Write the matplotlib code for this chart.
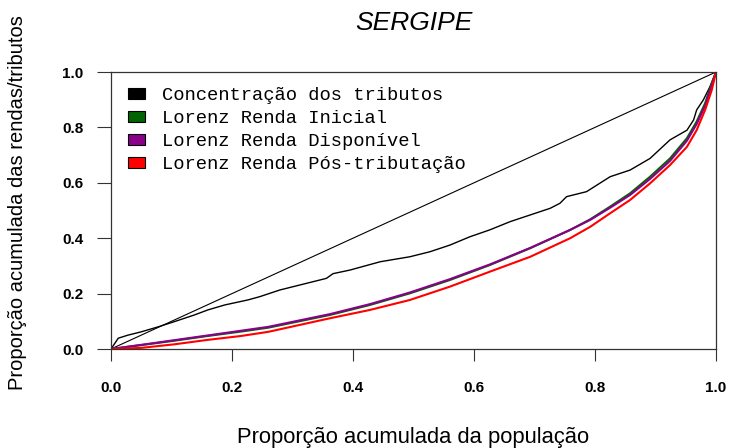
import matplotlib
matplotlib.use("Agg")
import matplotlib.pyplot as plt
from matplotlib.patches import Patch

plt.rcParams['font.family'] = ['Liberation Sans', 'DejaVu Sans']

# curva de concentracao dos tributos
conc_x = [0.0, 0.012, 0.028, 0.05, 0.078, 0.105, 0.138, 0.16, 0.188, 0.226, 0.246,
          0.279, 0.312, 0.356, 0.367, 0.395, 0.445, 0.494, 0.527, 0.56, 0.593,
          0.626, 0.66, 0.693, 0.726, 0.742, 0.753, 0.786, 0.825, 0.858, 0.891,
          0.924, 0.952, 0.963, 0.968, 0.979, 0.99, 1.0]
conc_y = [0.0, 0.039, 0.05, 0.062, 0.08, 0.099, 0.123, 0.141, 0.159, 0.177, 0.189,
          0.213, 0.231, 0.255, 0.272, 0.285, 0.315, 0.333, 0.351, 0.375, 0.405,
          0.43, 0.46, 0.484, 0.508, 0.526, 0.55, 0.568, 0.622, 0.646, 0.688,
          0.755, 0.79, 0.827, 0.863, 0.899, 0.947, 1.0]

# curvas de Lorenz
lor_x = [0.0, 0.05, 0.105, 0.16, 0.215, 0.26, 0.362, 0.428, 0.494, 0.56, 0.626,
         0.693, 0.759, 0.792, 0.825, 0.858, 0.891, 0.924, 0.952, 0.968, 0.982,
         0.993, 1.0]
inicial_y = [0.0, 0.014, 0.03, 0.047, 0.063, 0.077, 0.123, 0.159, 0.201, 0.249,
             0.303, 0.364, 0.43, 0.468, 0.514, 0.562, 0.622, 0.688, 0.761, 0.821,
             0.887, 0.959, 1.0]
disponivel_y = [0.0, 0.015, 0.032, 0.049, 0.066, 0.08, 0.126, 0.162, 0.204, 0.252,
                0.305, 0.365, 0.43, 0.466, 0.51, 0.556, 0.614, 0.679, 0.752, 0.812,
                0.878, 0.952, 1.0]
pos_y = [0.0, 0.004, 0.017, 0.033, 0.047, 0.062, 0.111, 0.141, 0.177, 0.225,
         0.279, 0.333, 0.40, 0.441, 0.49, 0.538, 0.598, 0.664, 0.73, 0.79,
         0.863, 0.935, 1.0]

labels = ["Concentração dos tributos", "Lorenz Renda Inicial",
          "Lorenz Renda Disponível", "Lorenz Renda Pós-tributação"]
cores = ["#000000", "#006400", "#8B008B", "#FF0000"]

fig = plt.figure(figsize=(7.29, 4.48), dpi=100)
ax = fig.add_axes([111/729, 99/448, 605/729, 277/448])

ax.plot([0, 1], [0, 1], color="black", lw=0.8)
ax.plot(conc_x, conc_y, color=cores[0], lw=1.0)
ax.plot(lor_x, inicial_y, color=cores[1], lw=1.5)
ax.plot(lor_x, disponivel_y, color=cores[2], lw=1.5)
ax.plot(lor_x, pos_y, color=cores[3], lw=1.5)

ax.set_xlim(0, 1)
ax.set_ylim(0, 1)
ticks = [0.0, 0.2, 0.4, 0.6, 0.8, 1.0]
ax.set_xticks(ticks)
ax.set_yticks(ticks)
ax.set_xticklabels(["%.1f" % t for t in ticks], fontweight="bold", fontsize=11)
ax.set_yticklabels(["%.1f" % t for t in ticks], fontweight="bold", fontsize=11)
ax.tick_params(axis="x", length=8.6, width=0.8, pad=14.5, color="#333333")
ax.tick_params(axis="y", length=10, width=0.8, pad=10, color="#333333")
for s in ax.spines.values():
    s.set_color("#333333")
    s.set_linewidth(0.9)

ax.set_title("SERGIPE", fontstyle="italic", fontsize=19, pad=30)
fig.text(413/729, 1 - 437/448, "Proporção acumulada da população",
         ha="center", va="center", fontsize=15.8)
fig.text(18/729, 1 - 203/448, "Proporção acumulada das rendas/tributos",
         ha="center", va="center", rotation=90, fontsize=14.5)

handles = [Patch(facecolor=c, edgecolor="black", linewidth=0.8) for c in cores]
ax.legend(handles, labels, loc="upper left", bbox_to_anchor=(0.028, 0.945),
          frameon=False, borderpad=0, borderaxespad=0,
          prop={"family": "Liberation Mono", "size": 13.5},
          handlelength=0.92, handleheight=0.55, handletextpad=0.9,
          labelspacing=0.32)

fig.savefig("out.png", dpi=100)
